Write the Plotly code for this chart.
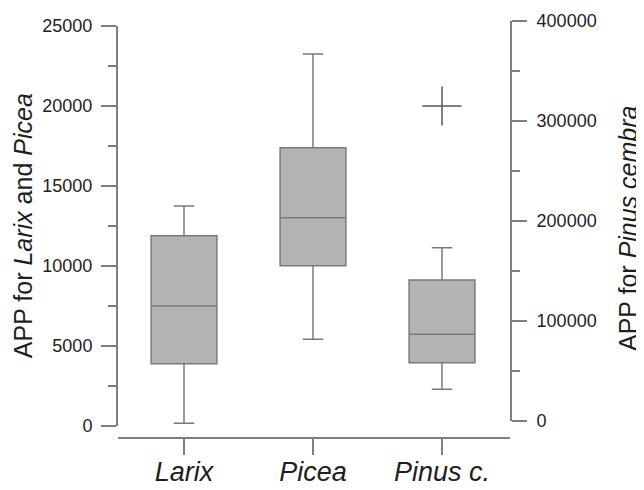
import plotly.graph_objects as go

categories = ["Larix", "Picea", "Pinus c."]
lower_whisker = [150, 5400, 31700]
q1 = [3875, 10000, 58300]
median = [7480, 13000, 86700]
q3 = [11875, 17375, 141000]
upper_whisker = [13730, 23230, 173300]
axis_for = ["y", "y", "y2"]
outlier_category = ["Pinus c."]
outlier_value = [315000]

left_ticks = [0, 5000, 10000, 15000, 20000, 25000]
right_ticks = [0, 100000, 200000, 300000, 400000]

AX = "#7f7f7f"
TXT = "#1e1e1e"
FONT = "Liberation Sans, Arial, Helvetica, sans-serif"

fig = go.Figure()
for i, c in enumerate(categories):
    fig.add_trace(go.Box(
        x=[c], q1=[q1[i]], median=[median[i]], q3=[q3[i]],
        lowerfence=[lower_whisker[i]], upperfence=[upper_whisker[i]],
        xaxis="x", yaxis=axis_for[i], width=0.51, whiskerwidth=0.31,
        fillcolor="#b3b3b3", line=dict(color="#7a7a7a", width=1.5),
        boxpoints=False, showlegend=False, hoverinfo="skip"))

fig.add_trace(go.Scatter(
    x=outlier_category, y=outlier_value, xaxis="x", yaxis="y2",
    mode="markers",
    marker=dict(symbol="cross-thin", size=28, color="#555555",
                line=dict(width=1.5, color="#555555")),
    showlegend=False, hoverinfo="skip"))

# page body has an 8px margin; figure is sized/offset to compensate
PAGE_BOTTOM = 450  # page y of plot-area bottom
PAGE_LEFT = 118
ph = 430
pw = 392


def frac(p):
    return (PAGE_BOTTOM - p) / ph


def xfrac(p):
    return (p - PAGE_LEFT) / pw


axis_common = dict(showline=True, linecolor=AX, linewidth=2, ticks="outside",
                   tickcolor=AX, tickwidth=1.5, showgrid=False, zeroline=False,
                   tickfont=dict(size=18, color=TXT), tickformat="d",
                   automargin=False)

fig.update_layout(
    width=636, height=482,
    margin=dict(l=110, r=134, t=12, b=40, pad=0),
    paper_bgcolor="white", plot_bgcolor="rgba(0,0,0,0)",
    font=dict(family=FONT, color=TXT),
    boxmode="overlay",
    xaxis=dict(type="category", categoryorder="array", categoryarray=categories,
               range=[-0.5116, 2.527], anchor="free", position=frac(438),
               showline=True, linecolor=AX, linewidth=2, ticks="outside",
               ticklen=16, tickcolor=AX, tickwidth=1.5, showgrid=False,
               zeroline=False, automargin=False, ticklabelstandoff=-6,
               tickfont=dict(size=27, color=TXT, style="italic")),
    yaxis=dict(domain=[frac(425.7), frac(25.7)], range=[0, 25000], anchor="x",
               tickvals=left_ticks, ticklen=15, ticklabelstandoff=5,
               minor=dict(dtick=2500, tick0=0, ticks="outside", ticklen=8,
                          tickwidth=1.5, tickcolor=AX, showgrid=False),
               title=dict(text="APP for <i>Larix</i> and <i>Picea</i>",
                          font=dict(size=25, color=TXT), standoff=3),
               **axis_common),
    yaxis2=dict(domain=[frac(421), frac(21)], range=[0, 400000], anchor="x",
                side="right", tickvals=right_ticks, ticklen=15,
                ticklabelstandoff=6,
                minor=dict(dtick=50000, tick0=0, ticks="outside", ticklen=8,
                           tickwidth=1.5, tickcolor=AX, showgrid=False),
                **axis_common),
    annotations=[dict(text="APP for <i>Pinus cembra</i>", textangle=-90,
                      xref="paper", yref="paper", x=xfrac(628), y=frac(228),
                      xanchor="center", yanchor="middle", showarrow=False,
                      font=dict(size=25, color=TXT))],
)

fig.write_html("out.html")
